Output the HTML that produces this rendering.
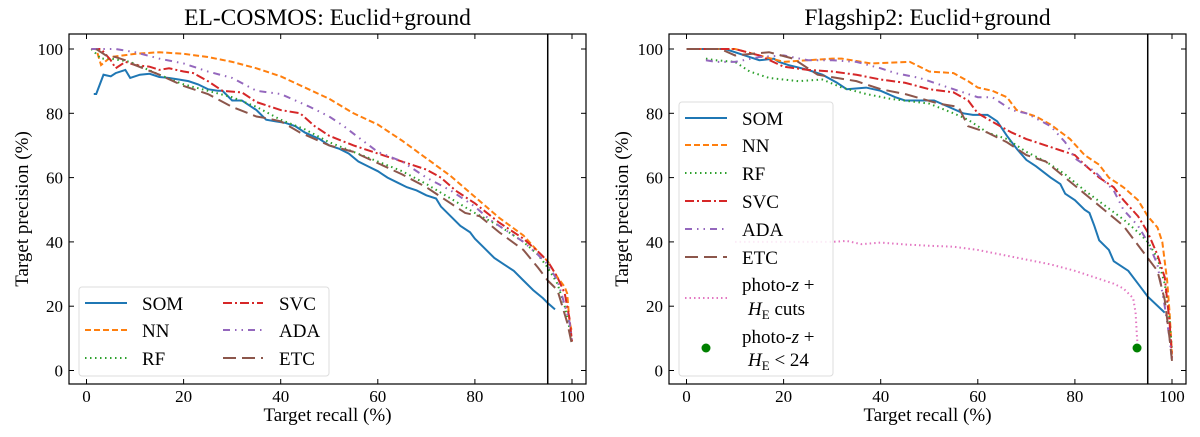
<!DOCTYPE html>
<html><head><meta charset="utf-8"><style>
body{margin:0;background:#fff}
svg text{font-family:"Liberation Serif","DejaVu Serif",serif;fill:#000}
</style></head><body>
<svg id="c" width="1200" height="432" xmlns="http://www.w3.org/2000/svg"></svg>
<script>
const xTicks=[0,20,40,60,80,100];
const yTicks=[0,20,40,60,80,100];
const recallLimit=95;
const leftSeriesNames=["SOM","NN","RF","SVC","ADA","ETC"];
const L_SOM=[[1.5,86],[2,86],[3.5,92],[5,91.5],[6,92.5],[8,93.5],[9,91],[11,92],[13,92.3],[15,91.3],[17,91],[19,90.5],[21,90],[23,89],[25,87.5],[27,87],[28,87],[30,84],[32,84],[35,81],[37,78],[39,77.5],[41,77],[43,76],[45,74],[48,72],[50,70],[52,69],[54,67.5],[56,65],[58,63.5],[60,62],[62,60],[64,58.5],[66,57],[68,56],[70,54.5],[72,53.5],[73,51],[75,48],[77,45],[79,43],[80,41],[82,38],[84,35],[86,33],[88,31],[90,28],[92,25],[94,22.5],[95,21],[96.5,19]];
const L_NN=[[1,100],[2,100],[3,95],[5,97.5],[10,98.5],[15,99],[20,98.5],[25,97.5],[30,96],[35,94],[40,91.5],[45,88],[50,84.5],[55,80],[60,76.5],[65,71.5],[70,66],[75,60.5],[80,54],[85,47.5],[90,42],[93,37],[95,34],[97,29],[98.5,26],[99,24],[99.5,15],[100,12]];
const L_RF=[[1,100],[3,97],[5,97],[9,96],[12,94],[15,92],[20,89],[25,87],[30,85],[35,82],[40,78],[45,75],[50,71],[55,68],[60,65],[65,62],[70,58],[75,53.5],[80,49],[85,45],[90,40],[93,36],[95,32],[97,27],[98.5,20],[99.5,13],[100,9]];
const L_SVC=[[1,100],[3,100],[5,96.5],[6,94],[8,96],[10,95],[13,94.5],[15,93.5],[17,94],[20,93],[22,92.5],[25,90],[27,88],[28,87],[32,86.5],[35,83.5],[40,81],[44,80],[47,76],[50,73],[55,70],[60,67.5],[65,65],[70,62.5],[73,60],[76,56],[80,52],[85,46],[90,41],[93,37],[95,34],[97,29],[98.5,24],[99.5,16],[100,9]];
const L_ADA=[[1,100],[6,100],[10,99],[15,97],[20,95.5],[25,93],[30,91],[35,87],[40,86],[43,84],[46,82],[50,79],[53,76],[56,72.5],[60,68],[65,65],[70,60],[75,56],[80,51],[83,47],[86,44],[90,40],[93,36],[95,33],[97,28],[98,23],[99.5,15],[100,9]];
const L_ETC=[[2,100],[4,98],[6,97.5],[8,96.5],[10,95],[15,92],[20,88.5],[25,86],[30,82],[35,79],[37,78.5],[40,77.5],[44,74],[50,70],[55,68],[60,64.5],[65,61],[70,57],[75,52],[78,49],[81,48],[85,43],[90,37.5],[93,32],[95,28],[97,25],[98,20],[99,15],[100,8]];
const R_SOM=[[0,100],[8,100],[12,98],[15,96.5],[18,97],[19,96],[21,95],[25,93.5],[28,92],[31,89.5],[33,87.5],[37,88],[40,87],[43,85],[45,84],[51,84],[54,82],[57,80],[59,79.5],[62,79.5],[64,77.5],[66,73],[68,69],[70,65.5],[72,63.5],[75,60],[77,58],[78,55],[80,53],[82,50],[83,49],[84,45],[85,40.5],[87,37.5],[88,34],[91,31],[93,27],[95,23],[98.5,18]];
const R_NN=[[0,100],[10,100],[20,96],[30,97],[32,97],[38,95.5],[46,96],[50,93],[55,92.5],[58,90],[60,88],[63,87],[66,85],[68,81],[72,79],[75,76.5],[79,72],[82,67],[85,64],[87,60],[90,57],[93,53],[95,48],[97,44.5],[98,40],[99,28],[99.5,18],[100,5]];
const R_RF=[[4,97],[6,96.5],[10,96],[13,93],[17,91],[23,90],[28,90.5],[32,88],[37,86],[42,84.5],[50,83],[55,80],[58,78],[62,74],[66,72],[70,68],[74,65],[78,61],[82,56],[86,51.5],[90,47],[93,43],[95,40],[97,35],[98.5,27],[99.5,16],[100,6]];
const R_SVC=[[0,100],[10,100],[15,98],[20,94.5],[25,93.5],[30,93],[35,92],[40,90.5],[45,89.5],[50,87.5],[55,86.5],[58,84],[60,80],[64,76.5],[67,74],[70,72],[75,69.5],[80,67],[82,64],[85,60],[88,57],[90,53],[93,48],[95,43],[97,36],[98.5,29],[99.5,15],[100,4]];
const R_ADA=[[4,96.5],[6,96],[10,96],[15,97.5],[20,98],[25,96.5],[30,96.5],[35,96],[40,94],[43,92.5],[48,91],[52,89],[56,87],[60,85],[63,85],[67,81],[70,80],[75,76],[78,71],[80,66],[84,62],[88,56],[90,50],[93,45],[95,40],[97,33],[98.5,20],[99.5,10],[100,3]];
const R_ETC=[[0,100],[7,100],[10,98],[17,99],[22,97],[27,92],[35,90],[40,87.5],[45,86],[52,83],[56,82],[58,76],[62,74],[66,71],[70,67],[74,65],[78,60],[82,55],[86,50],[90,45],[93,39],[95,35],[97,31],[98.5,22],[99.5,10],[100,3]];
const R_CUTS=[[10,40],[30,40],[33,40.3],[36,39.3],[40,39.8],[45,39.2],[50,38.8],[55,38.5],[60,37.5],[65,36],[70,34.5],[75,33],[80,31],[85,28.5],[88,27],[90,25.5],[92,22.5],[92.5,18],[92.8,10],[93,7]];
const R_POINT=[92.8,7];

const NS="http://www.w3.org/2000/svg";
const svg=document.getElementById('c');
function mk(t,a,p){const e=document.createElementNS(NS,t);for(const k in a)e.setAttribute(k,a[k]);(p||svg).appendChild(e);return e;}
const styles={
 SOM:{c:"#1f77b4",d:""},NN:{c:"#ff7f0e",d:"6,3"},RF:{c:"#2ca02c",d:"1.5,3.5"},
 SVC:{c:"#d62728",d:"9,3,2,3"},ADA:{c:"#9467bd",d:"7,5,1.5,5,1.5,5"},ETC:{c:"#8c564b",d:"13,6"},CUTS:{c:"#e377c2",d:"1.5,3"}
};
function panel(ox,title,series,name){
 const g=mk('g',{});
 
 
 const L=ox+69,R=ox+586,T=34,B=384;
 const X=v=>ox+86.5+(v/100)*485.5, Y=v=>370.5-(v/100)*321.5;
 const clip=mk('clipPath',{id:'cl'+ox},g);mk('rect',{x:L,y:T,width:R-L,height:B-T},clip);
 const pg=mk('g',{'clip-path':'url(#cl'+ox+')'},g);
 for(const s of series){
  const st=styles[s.k];
  const p=mk('polyline',{points:s.d.map(q=>X(q[0])+','+Y(q[1])).join(' '),fill:'none',stroke:st.c,'stroke-width':2,'stroke-dasharray':st.d},pg);
  
  
 }
 const vl=mk('line',{x1:X(recallLimit),x2:X(recallLimit),y1:T,y2:B,stroke:'#000','stroke-width':1.5},g);
 
 
 mk('rect',{x:L,y:T,width:R-L,height:B-T,fill:'none',stroke:'#000','stroke-width':1.2},g);
 for(const t of xTicks){const x=X(t);
  mk('line',{x1:x,x2:x,y1:B,y2:B-5,stroke:'#000'},g);mk('line',{x1:x,x2:x,y1:T,y2:T+5,stroke:'#000'},g);
  const tx=mk('text',{x:x,y:B+18,'text-anchor':'middle','font-size':17},g);tx.textContent=t;
  
  }
 for(const t of yTicks){const y=Y(t);
  mk('line',{x1:L,x2:L+5,y1:y,y2:y,stroke:'#000'},g);mk('line',{x1:R,x2:R-5,y1:y,y2:y,stroke:'#000'},g);
  const tx=mk('text',{x:L-6,y:y+6,'text-anchor':'end','font-size':17},g);tx.textContent=t;
  
  }
 const tt=mk('text',{x:(L+R)/2,y:25,'text-anchor':'middle','font-size':23.5},g);tt.textContent=title;
 
 
 const xl=mk('text',{x:(L+R)/2,y:421,'text-anchor':'middle','font-size':19},g);xl.textContent='Target recall (%)';
 
 
 const yl=mk('text',{x:0,y:0,'text-anchor':'middle','font-size':19,transform:`translate(${ox+28},${(T+B)/2}) rotate(-90)`},g);yl.textContent='Target precision (%)';
 
 
 return {g,X,Y};
}
function legEntry(g,k,x1,x2,y,tx,label,ty){
 const st=styles[k];
 const l=mk('line',{x1:x1,x2:x2,y1:y,y2:y,stroke:st.c,'stroke-width':2,'stroke-dasharray':st.d},g);
 
 
 const t=mk('text',{x:tx,y:(ty!==undefined?ty:y+7),'font-size':19},g);t.innerHTML=label;
 
 
}
// left
const Lp=panel(0,'EL-COSMOS: Euclid+ground',[{k:'SOM',d:L_SOM},{k:'NN',d:L_NN},{k:'RF',d:L_RF},{k:'SVC',d:L_SVC},{k:'ADA',d:L_ADA},{k:'ETC',d:L_ETC}],'left-panel');
const lg=mk('g',{},Lp.g);


mk('rect',{x:79,y:287,width:250,height:89,rx:3,fill:'#fff',stroke:'#ddd','fill-opacity':0.85},lg);
legEntry(lg,'SOM',85,127,303,142,'SOM');legEntry(lg,'NN',85,127,330,142,'NN');legEntry(lg,'RF',85,127,358,142,'RF');
legEntry(lg,'SVC',223,263,303,279,'SVC');legEntry(lg,'ADA',223,263,330,279,'ADA');legEntry(lg,'ETC',223,263,358,279,'ETC');
// right
const Rp=panel(600,'Flagship2: Euclid+ground',[{k:'SOM',d:R_SOM},{k:'NN',d:R_NN},{k:'RF',d:R_RF},{k:'SVC',d:R_SVC},{k:'ADA',d:R_ADA},{k:'ETC',d:R_ETC},{k:'CUTS',d:R_CUTS}],'right-panel');
const pt=mk('circle',{cx:Rp.X(R_POINT[0]),cy:Rp.Y(R_POINT[1]),r:4.5,fill:'#008000'},Rp.g);


const rg=mk('g',{},Rp.g);


mk('rect',{x:679,y:102,width:154,height:274,rx:3,fill:'#fff',stroke:'#ddd','fill-opacity':0.85},rg);
const ks=['SOM','NN','RF','SVC','ADA','ETC'],ys=[118,145,173,201,229,257];
ks.forEach((k,i)=>legEntry(rg,k,685,727,ys[i],742,k));
legEntry(rg,'CUTS',685,727,298,742,'photo-<tspan font-style="italic">z</tspan> +',291);
const c1=mk('text',{x:748,y:315,'font-size':19},rg);c1.innerHTML='<tspan font-style="italic">H</tspan><tspan font-size="13" dy="4">E</tspan><tspan dy="-4"> cuts</tspan>';


const ld=mk('circle',{cx:706,cy:348,r:4.5,fill:'#008000'},rg);


const p1=mk('text',{x:742,y:343,'font-size':19},rg);p1.innerHTML='photo-<tspan font-style="italic">z</tspan> +';


const p2=mk('text',{x:748,y:366,'font-size':19},rg);p2.innerHTML='<tspan font-style="italic">H</tspan><tspan font-size="13" dy="4">E</tspan><tspan dy="-4"> &lt; 24</tspan>';


</script>
</body></html>
